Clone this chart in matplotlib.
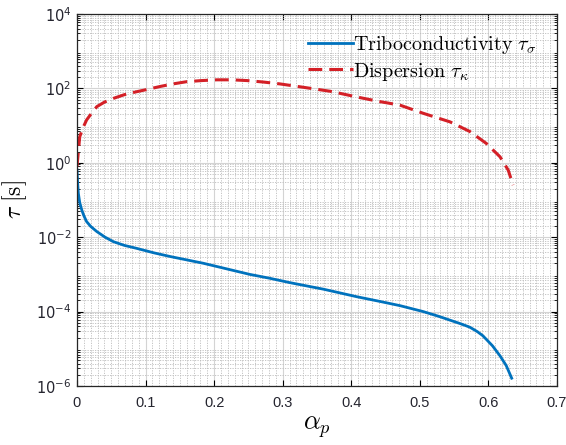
import numpy as np
import matplotlib
matplotlib.use("Agg")
import matplotlib.pyplot as plt
from matplotlib.ticker import MultipleLocator, LogLocator, FixedLocator, NullFormatter

# Values (log10 of tau in seconds)
alpha_tribo = [0, 0.001, 0.002, 0.004, 0.007, 0.01, 0.014, 0.02, 0.029, 0.041,
               0.053, 0.069, 0.087, 0.112, 0.136, 0.16, 0.184, 0.218, 0.252, 0.28,
               0.31, 0.36, 0.408, 0.44, 0.471, 0.505, 0.528, 0.544, 0.56, 0.573,
               0.584, 0.592, 0.606, 0.617, 0.626, 0.634]
log_tau_tribo = [-0.19, -0.55, -0.82, -1.07, -1.27, -1.42, -1.58, -1.71, -1.85, -2.0,
                 -2.12, -2.22, -2.3, -2.42, -2.52, -2.61, -2.7, -2.85, -3.0, -3.1,
                 -3.22, -3.4, -3.6, -3.72, -3.84, -4.0, -4.13, -4.23, -4.33, -4.42,
                 -4.54, -4.65, -4.92, -5.19, -5.45, -5.79]

alpha_disp = [0, 0.002, 0.004, 0.009, 0.014, 0.02, 0.029, 0.04, 0.053, 0.069,
              0.087, 0.102, 0.121, 0.14, 0.16, 0.182, 0.204, 0.226, 0.248, 0.272,
              0.296, 0.33, 0.37, 0.408, 0.44, 0.471, 0.505, 0.544, 0.573, 0.597,
              0.617, 0.629, 0.636]
log_tau_disp = [-0.1, 0.3, 0.7, 0.95, 1.15, 1.3, 1.51, 1.63, 1.73, 1.83,
                1.91, 1.97, 2.05, 2.12, 2.18, 2.21, 2.23, 2.23, 2.21, 2.17,
                2.12, 2.03, 1.92, 1.77, 1.65, 1.55, 1.33, 1.1, 0.84, 0.52,
                0.16, -0.2, -0.6]

x_ticks = [0, 0.1, 0.2, 0.3, 0.4, 0.5, 0.6, 0.7]
y_ticks = [1e-6, 1e-4, 1e-2, 1e0, 1e2, 1e4]
y_ticklabels = [r"$10^{-6}$", r"$10^{-4}$", r"$10^{-2}$", r"$10^{0}$", r"$10^{2}$", r"$10^{4}$"]

fig = plt.figure(figsize=(5.66, 4.45), dpi=100)
ax = fig.add_axes([0.136, 0.1326, 0.848, 0.836])

ax.plot(alpha_tribo, 10.0 ** np.array(log_tau_tribo), color="#0072BD", lw=2,
        label=r"$\mathrm{Triboconductivity}\ \tau_\sigma$")
ax.plot(alpha_disp, 10.0 ** np.array(log_tau_disp), color="#D42027", lw=2.2,
        ls=(0, (4.5, 2.3)), label=r"$\mathrm{Dispersion}\ \tau_\kappa$")

ax.set_yscale("log")
ax.set_xlim(0, 0.7)
ax.set_ylim(1e-6, 1e4)

ax.set_xticks(x_ticks)
ax.set_xticklabels([f"{v:g}" for v in x_ticks])
ax.xaxis.set_minor_locator(MultipleLocator(0.01))
ax.yaxis.set_major_locator(FixedLocator(y_ticks))
ax.set_yticklabels(y_ticklabels)
ax.yaxis.set_minor_locator(LogLocator(base=10, subs=np.arange(2, 10), numticks=100))
ax.yaxis.set_minor_formatter(NullFormatter())

for lab in ax.get_xticklabels() + ax.get_yticklabels():
    lab.set_math_fontfamily("dejavusans")
    lab.set_fontfamily("Liberation Sans")
    lab.set_fontsize(10.5)
    lab.set_color("#25252f")

ax.grid(True, which="major", color="#d4d4d4", lw=0.8, ls="-")
ax.grid(True, which="minor", color="#bdbdbd", lw=0.6, ls=(0, (1.5, 1.5)))
ax.set_axisbelow(True)

ax.tick_params(which="both", direction="in", top=True, right=True)
ax.tick_params(which="major", length=4, width=0.8)
ax.tick_params(axis="x", which="major", pad=7)
ax.tick_params(axis="y", which="major", pad=4)
ax.tick_params(axis="x", which="minor", length=0)
ax.tick_params(axis="y", which="minor", length=2.5, width=0.6)
for s in ax.spines.values():
    s.set_color("#262626")
    s.set_linewidth(0.9)

ax.set_xlabel(r"$\alpha_p$", fontsize=19, math_fontfamily="cm")
ax.set_ylabel(r"$\tau\ [\mathrm{s}]$", fontsize=17, math_fontfamily="cm")
ax.xaxis.set_label_coords(0.5, -0.075)
ax.yaxis.set_label_coords(-0.1, 0.5)

leg = ax.legend(loc="upper right", frameon=False, fontsize=14.5, handlelength=2.25,
                handletextpad=0.0, borderaxespad=0.6, borderpad=0.4,
                labelspacing=0.22)
for t in leg.get_texts():
    t.set_math_fontfamily("cm")

fig.savefig("out.png", dpi=100)
